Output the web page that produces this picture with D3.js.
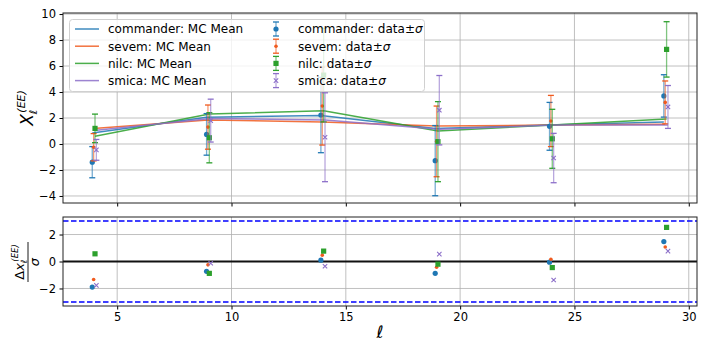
<!DOCTYPE html>
<html>
<head>
<meta charset="utf-8">
<script src="https://cdn.jsdelivr.net/npm/d3@7/dist/d3.min.js"></script>
<style>
  body { margin: 0; background: #fff; }
  svg { font-family: "DejaVu Sans", sans-serif; }
</style>
</head>
<body>
<svg width="708" height="354"></svg>
<script>
var svg = d3.select('svg');

// data
var ells = [4, 9, 14, 19, 24, 29];
var seriesNames = ['commander', 'sevem', 'nilc', 'smica'];
var colors = ['#1f77b4', '#f05a1e', '#2ca02c', '#8c6fc9'];
var offsets = [-0.09, -0.03, 0.03, 0.09];

var mcCommander = [0.85, 2.05, 2.2, 1.2, 1.46, 1.7];
var mcSevem = [1.2, 1.85, 1.7, 1.38, 1.46, 1.52];
var mcNilc = [0.6, 2.3, 2.55, 1.0, 1.46, 1.92];
var mcSmica = [1.05, 1.97, 1.85, 1.13, 1.46, 1.46];

var dataCommander = [-1.4, 0.74, 2.23, -1.28, 1.36, 3.7];
var dataSevem = [-0.25, 1.3, 2.92, 0.2, 1.77, 3.2];
var dataNilc = [1.2, 0.48, 5.3, 0.18, 0.4, 7.28];
var dataSmica = [-0.45, 1.8, 0.52, 2.6, -1.08, 2.85];

var sigCommander = [1.2, 1.6, 2.9, 2.7, 1.84, 1.63];
var sigSevem = [1.05, 1.7, 3.0, 2.72, 1.97, 1.65];
var sigNilc = [1.1, 1.93, 3.6, 3.08, 2.27, 2.13];
var sigSmica = [0.8, 1.65, 3.42, 2.67, 1.9, 1.65];

var resCommander = [-1.9, -0.73, 0.1, -0.88, -0.05, 1.48];
var resSevem = [-1.33, -0.25, 0.47, -0.43, 0.17, 1.07];
var resNilc = [0.57, -0.88, 0.77, -0.2, -0.45, 2.53];
var resSmica = [-1.77, -0.13, -0.35, 0.55, -1.37, 0.77];

var xTicks = [5, 10, 15, 20, 25, 30];
var yTicksTop = [-4, -2, 0, 2, 4, 6, 8, 10];
var yTicksBot = [-2, 0, 2];

var mcs = [mcCommander, mcSevem, mcNilc, mcSmica];
var datas = [dataCommander, dataSevem, dataNilc, dataSmica];
var sigs = [sigCommander, sigSevem, sigNilc, sigSmica];
var ress = [resCommander, resSevem, resNilc, resSmica];
var markers = ['circle', 'dot', 'square', 'cross'];

var left = 63, right = 697;
var x = d3.scaleLinear().domain([2.63, 30.36]).range([left, right]);
var yTop = d3.scaleLinear().domain([-4.54, 10.08]).range([203, 13]);
var yBot = d3.scaleLinear().domain([-3.3, 3.3]).range([306, 217]);

var drawMarker = function (g, kind, cx, cy, color) {
  if (kind === 'circle') {
    g.append('circle').attr('cx', cx).attr('cy', cy).attr('r', 2.6).attr('fill', color);
  } else if (kind === 'dot') {
    g.append('circle').attr('cx', cx).attr('cy', cy).attr('r', 1.8).attr('fill', color);
  } else if (kind === 'square') {
    g.append('rect').attr('x', cx - 2.6).attr('y', cy - 2.6).attr('width', 5.2).attr('height', 5.2).attr('fill', color);
  } else {
    g.append('path').attr('d', 'M' + (cx - 2.2) + ',' + (cy - 2.2) + 'L' + (cx + 2.2) + ',' + (cy + 2.2) +
      'M' + (cx - 2.2) + ',' + (cy + 2.2) + 'L' + (cx + 2.2) + ',' + (cy - 2.2))
      .attr('stroke', color).attr('stroke-width', 1.1);
  }
};

var drawPanel = function (y, ticks, top, bottom) {
  var g = svg.append('g');
  // grid
  g.selectAll('.gx').data(xTicks).enter().append('line')
    .attr('x1', function (d) { return x(d); }).attr('x2', function (d) { return x(d); })
    .attr('y1', top).attr('y2', bottom)
    .attr('stroke', '#b0b0b0').attr('stroke-width', 0.8);
  g.selectAll('.gy').data(ticks).enter().append('line')
    .attr('x1', left).attr('x2', right)
    .attr('y1', function (d) { return y(d); }).attr('y2', function (d) { return y(d); })
    .attr('stroke', '#b0b0b0').attr('stroke-width', 0.8);
  return g;
};

var drawAxes = function (y, ticks, top, bottom, showX) {
  var ax = d3.axisLeft(y).tickValues(ticks).tickSize(3.5).tickPadding(3.5)
    .tickFormat(function (d) { return d < 0 ? '\u2212' + Math.abs(d) : d; });
  var ga = svg.append('g').attr('transform', 'translate(' + left + ',0)').call(ax);
  ga.select('.domain').remove();
  ga.selectAll('text').attr('font-size', 11.5).attr('font-family', 'DejaVu Sans').attr('fill', '#000');
  var bx = d3.axisBottom(x).tickValues(xTicks).tickSize(3.5).tickPadding(3.5);
  var gb = svg.append('g').attr('transform', 'translate(0,' + bottom + ')').call(bx);
  gb.select('.domain').remove();
  gb.selectAll('text').attr('font-size', 11.5).attr('font-family', 'DejaVu Sans').attr('fill', '#000');
  if (!showX) gb.selectAll('text').remove();
  svg.append('rect').attr('x', left).attr('y', top).attr('width', right - left).attr('height', bottom - top)
    .attr('fill', 'none').attr('stroke', '#222').attr('stroke-width', 1);
};

// ---------- top panel
var gTop = drawPanel(yTop, yTicksTop, 13, 203);

// MC mean lines
var line = d3.line()
  .x(function (d) { return x(d.l); })
  .y(function (d) { return yTop(d.v); });

seriesNames.forEach(function (name, s) {
  var pts = ells.map(function (l, i) { return {l: l + offsets[s], v: mcs[s][i]}; });
  gTop.append('path').datum(pts).attr('d', line)
    .attr('fill', 'none').attr('stroke', colors[s]).attr('stroke-width', 1.5).attr('opacity', 0.85);
});

// data error bars
var gErr = svg.append('g');
seriesNames.forEach(function (name, s) {
  ells.forEach(function (l, i) {
    var cx = x(l + offsets[s]);
    var v = datas[s][i], e = sigs[s][i];
    gErr.append('line').attr('x1', cx).attr('x2', cx)
      .attr('y1', yTop(v - e)).attr('y2', yTop(v + e))
      .attr('stroke', colors[s]).attr('stroke-width', 1.3).attr('opacity', 0.6);
    [v - e, v + e].forEach(function (c) {
      gErr.append('line').attr('x1', cx - 3).attr('x2', cx + 3)
        .attr('y1', yTop(c)).attr('y2', yTop(c))
        .attr('stroke', colors[s]).attr('stroke-width', 1.3);
    });
    drawMarker(gErr, markers[s], cx, yTop(v), colors[s]);
  });
});

drawAxes(yTop, yTicksTop, 13, 203, false);

// legend (on top of the marks)
var lg = svg.append('g');
lg.append('rect').attr('x', 69.5).attr('y', 19.5).attr('width', 355).attr('height', 72)
  .attr('rx', 3).attr('fill', 'white').attr('fill-opacity', 0.8).attr('stroke', '#d0d0d0').attr('stroke-width', 1);
seriesNames.forEach(function (name, s) {
  var ry = 29 + s * 17.2;
  lg.append('line').attr('x1', 75).attr('x2', 99).attr('y1', ry).attr('y2', ry)
    .attr('stroke', colors[s]).attr('stroke-width', 1.5).attr('opacity', 0.85);
  lg.append('text').attr('x', 108).attr('y', ry + 4.3).attr('font-size', 12).text(name + ': MC Mean');
  lg.append('line').attr('x1', 276).attr('x2', 276).attr('y1', ry - 7).attr('y2', ry + 7)
    .attr('stroke', colors[s]).attr('stroke-width', 1.3).attr('opacity', 0.6);
  lg.append('line').attr('x1', 273).attr('x2', 279).attr('y1', ry - 7).attr('y2', ry - 7)
    .attr('stroke', colors[s]).attr('stroke-width', 1.3);
  lg.append('line').attr('x1', 273).attr('x2', 279).attr('y1', ry + 7).attr('y2', ry + 7)
    .attr('stroke', colors[s]).attr('stroke-width', 1.3);
  drawMarker(lg, markers[s], 276, ry, colors[s]);
  var t = lg.append('text').attr('x', 298).attr('y', ry + 4.3).attr('font-size', 12);
  t.append('tspan').text(name + ': data\u00b1');
  t.append('tspan').attr('font-style', 'italic').text('\u03c3');
});

// y label top
var yl = svg.append('text').attr('transform', 'translate(33,108) rotate(-90)')
  .attr('text-anchor', 'middle').attr('font-size', 17);
yl.append('tspan').attr('font-style', 'italic').text('X');
yl.append('tspan').attr('font-style', 'italic').attr('font-size', 11).attr('dy', 4).text('\u2113');
yl.append('tspan').attr('font-style', 'italic').attr('font-size', 11).attr('dy', -12).attr('dx', -3).text('(EE)');

// ---------- bottom panel
var gBot = drawPanel(yBot, yTicksBot, 217, 306);

gBot.append('line').attr('x1', left).attr('x2', right).attr('y1', yBot(0)).attr('y2', yBot(0))
  .attr('stroke', '#111').attr('stroke-width', 1.8);
[-3, 3].forEach(function (d) {
  gBot.append('line').attr('x1', left).attr('x2', right).attr('y1', yBot(d)).attr('y2', yBot(d))
    .attr('stroke', '#0000ff').attr('stroke-width', 1.6).attr('stroke-dasharray', '5.5,2.5');
});

seriesNames.forEach(function (name, s) {
  ells.forEach(function (l, i) {
    drawMarker(gBot, markers[s], x(l + offsets[s]), yBot(ress[s][i]), colors[s]);
  });
});

drawAxes(yBot, yTicksBot, 217, 306, true);

// y label bottom: fraction
var fr = svg.append('g').attr('transform', 'translate(28,262) rotate(-90)');
var num = fr.append('text').attr('x', 0).attr('y', -4).attr('text-anchor', 'middle').attr('font-size', 13);
num.append('tspan').text('\u0394');
num.append('tspan').attr('font-style', 'italic').text('x');
num.append('tspan').attr('font-style', 'italic').attr('font-size', 8.5).attr('dy', 3).text('\u2113');
num.append('tspan').attr('font-style', 'italic').attr('font-size', 8.5).attr('dy', -9).attr('dx', -2).text('(EE)');
fr.append('line').attr('x1', -20).attr('x2', 20).attr('y1', 0).attr('y2', 0)
  .attr('stroke', '#000').attr('stroke-width', 0.9);
fr.append('text').attr('x', 0).attr('y', 11).attr('text-anchor', 'middle').attr('font-size', 13)
  .attr('font-style', 'italic').text('\u03c3');

// x label
svg.append('text').attr('x', 380).attr('y', 338).attr('text-anchor', 'middle')
  .attr('font-size', 17).attr('font-style', 'italic').text('\u2113');
</script>
</body>
</html>
